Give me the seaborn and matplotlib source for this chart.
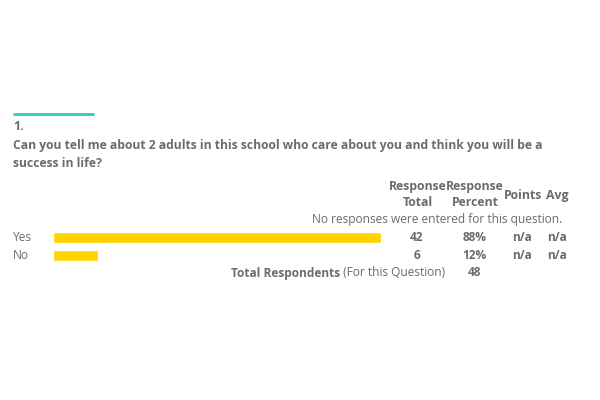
import matplotlib
matplotlib.use("Agg")
import matplotlib.pyplot as plt
import seaborn as sns
import pandas as pd
from matplotlib.lines import Line2D

categories = ["Yes", "No"]
totals = [42, 6]
percents = [88, 12]
points = ["n/a", "n/a"]
avgs = ["n/a", "n/a"]
total_respondents = 48
question_num = "1."
question_lines = ["Can you tell me about 2 adults in this school who care about you and think you will be a",
                  "success in life?"]
headers = [("Response\nTotal", 417.5), ("Response\nPercent", 475), ("Points", 523), ("Avg", 557)]
col_x = [417, 474.5, 522.5, 557]

sns.set_theme(style="white")
plt.rcParams['font.family'] = ['Open Sans', 'DejaVu Sans']

W, H = 600, 400
fig = plt.figure(figsize=(6, 4), dpi=100)
fig.patch.set_facecolor("white")

GRAY = "#6b6b6b"

def px(x, y):
    return x / W, 1 - y / H

def text(x, y, s, **kw):
    fx, fy = px(x, y)
    return fig.text(fx, fy, s, color=kw.pop("color", GRAY), **kw)

# teal line
x0, y0 = px(13, 113.5)
x1, _ = px(94, 113.5)
fig.add_artist(Line2D([x0, x1], [y0, y0], color="#33c9b9", lw=2, solid_capstyle="butt",
                      transform=fig.transFigure))

QS = 8.7
text(13, 126, question_num, fontsize=QS, fontweight="bold", va="center")
text(13, 146, question_lines[0], fontsize=QS, fontweight="bold", va="center")
text(13, 164, question_lines[1], fontsize=QS, fontweight="bold", va="center")

HS = 8.8
for h, xc in headers:
    if "\n" in h:
        a, b = h.split("\n")
        text(xc, 186, a, fontsize=HS, fontweight="bold", ha="center", va="center")
        text(xc, 203, b, fontsize=HS, fontweight="bold", ha="center", va="center")
    else:
        text(xc, 195, h, fontsize=HS, fontweight="bold", ha="center", va="center")

RS = 8.6
text(437.5, 219, "No responses were entered for this question.", fontsize=RS, ha="center", va="center")

# bars
ax_left, ax_right = 53, 426
ax_top, ax_bot = 228.5, 264.5
ax = fig.add_axes([ax_left / W, 1 - ax_bot / H, (ax_right - ax_left) / W, (ax_bot - ax_top) / H])
df = pd.DataFrame({"category": categories, "percent": percents})
sns.barplot(data=df, x="percent", y="category", orient="h", color="#ffd200",
            saturation=1, width=0.61, ax=ax)
ax.set_xlim(0, 100)
ax.set_ylim(1.5, -0.5)
ax.axis("off")

rows_y = [237.5, 255.5]
for i, cat in enumerate(categories):
    y = rows_y[i]
    text(13, y, cat, fontsize=RS, ha="left", va="center")
    text(col_x[0], y, str(totals[i]), fontsize=RS, fontweight="bold", ha="center", va="center")
    text(col_x[1], y, f"{percents[i]}%", fontsize=RS, fontweight="bold", ha="center", va="center")
    text(col_x[2], y, points[i], fontsize=RS, fontweight="bold", ha="center", va="center")
    text(col_x[3], y, avgs[i], fontsize=RS, fontweight="bold", ha="center", va="center")

fx, fy = px(445, 273)
tb = fig.text(fx, fy, "Total Respondents", color=GRAY, fontsize=RS, fontweight="bold", ha="right", va="center")
t1 = fig.text(fx, fy, " (For this Question)", color=GRAY, fontsize=RS, ha="right", va="center")
fig.canvas.draw()
bb = t1.get_window_extent()
tb.set_position((bb.x0 / W, fy))
text(col_x[1], 273, str(total_respondents), fontsize=RS, fontweight="bold", ha="center", va="center")

fig.savefig("out.png", dpi=100, facecolor="white")
